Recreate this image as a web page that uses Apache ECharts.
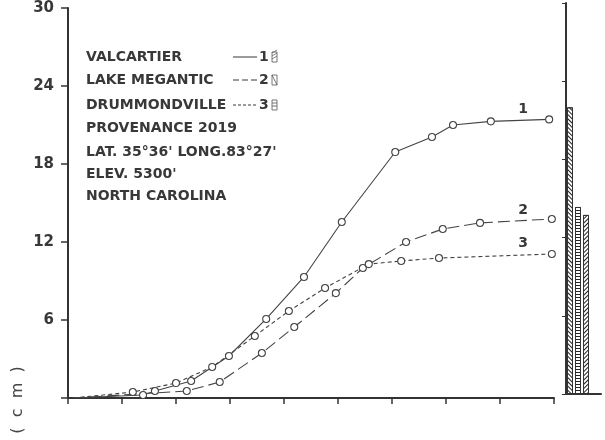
<!DOCTYPE html>
<html>
<head>
<meta charset="utf-8">
<script src="https://cdn.jsdelivr.net/npm/echarts@6/dist/echarts.min.js"></script>
<style>html,body{margin:0;padding:0;background:#fff}#c{width:605px;height:440px}</style>
</head>
<body>
<div id="c"></div>
<script>
// ---- data ----
const seriesNames = ['VALCARTIER', 'LAKE MEGANTIC', 'DRUMMONDVILLE'];
const seriesNumbers = ['1', '2', '3'];
const valcartier = [[0.1,0],[1.39,0.23],[1.61,0.54],[2.28,1.31],[2.98,3.23],[3.67,6.08],[4.37,9.31],[5.07,13.54],[6.06,18.92],[6.74,20.08],[7.13,21.0],[7.83,21.28],[8.91,21.43]];
const lakeMegantic = [[0.1,0],[2.20,0.54],[2.81,1.23],[3.59,3.46],[4.19,5.46],[4.96,8.07],[5.46,10.0],[6.26,12.0],[6.94,13.0],[7.63,13.47],[8.96,13.77]];
const drummondville = [[0.1,0],[1.20,0.46],[2.00,1.15],[2.67,2.39],[3.46,4.77],[4.09,6.69],[4.76,8.46],[5.57,10.3],[6.17,10.54],[6.87,10.77],[8.96,11.08]];
const yTicks = [0, 6, 12, 18, 24, 30];
const barCategories = ['1', '3', '2'];
const barValues = [22.0, 14.35, 13.74];
const infoLines = ['PROVENANCE 2019', 'LAT. 35°36\' LONG.83°27\'', 'ELEV. 5300\'', 'NORTH CAROLINA'];

const ink = '#383838';
const lineInk = '#444';
const chart = echarts.init(document.getElementById('c'), null, {renderer: 'canvas'});

function pts(arr) {
  return arr.map((p, i) => i === 0 ? {value: p, symbol: 'none'} : {value: p});
}
function lineSeries(name, data, dash) {
  return {
    name, type: 'line', xAxisIndex: 0, yAxisIndex: 0, data: pts(data),
    symbol: 'circle', symbolSize: 7,
    itemStyle: {color: '#fff', borderColor: lineInk, borderWidth: 1.1},
    lineStyle: {color: lineInk, width: 1.1, type: dash},
    emphasis: {disabled: true}, animation: false, z: 3
  };
}
const decals = {
  '1': {symbol: 'rect', symbolSize: 1, dashArrayX: [[1, 0]], dashArrayY: [1, 1.6], rotation: Math.PI / 4, color: '#222'},
  '2': {symbol: 'rect', symbolSize: 1, dashArrayX: [[1, 0]], dashArrayY: [1, 1.6], rotation: -Math.PI / 4, color: '#222'},
  '3': {symbol: 'rect', symbolSize: 1, dashArrayX: [[1, 0]], dashArrayY: [1, 1.6], rotation: 0, color: '#222'}
};

const textFont = 'bold 14px "DejaVu Sans"';
const graphics = [];
const rowY = [57, 80, 105, 128, 152, 174, 196];
seriesNames.forEach((n, i) => {
  graphics.push({type: 'text', x: 86, y: rowY[i], style: {text: n, font: textFont, fill: ink, verticalAlign: 'middle', textVerticalAlign: 'middle'}});
});
infoLines.forEach((n, i) => {
  graphics.push({type: 'text', x: 86, y: rowY[i + 3], style: {text: n, font: textFont, fill: ink, verticalAlign: 'middle', textVerticalAlign: 'middle'}});
});
const legendDash = [null, [6, 3], [3, 2]];
seriesNumbers.forEach((num, i) => {
  const y = rowY[i];
  graphics.push({type: 'line', shape: {x1: 233, y1: y, x2: 257, y2: y}, style: {stroke: ink, lineWidth: 1, lineDash: legendDash[i]}});
  graphics.push({type: 'text', x: 259, y: y, style: {text: num, font: textFont, fill: ink, verticalAlign: 'middle', textVerticalAlign: 'middle'}});
  graphics.push({type: 'rect', shape: {x: 272, y: y - 5, width: 5, height: 10}, style: {fill: '#fff', stroke: '#555', lineWidth: 0.8}});
  if (i === 0) {
    [0, 3, 6].forEach(d => graphics.push({type: 'line', shape: {x1: 272, y1: y - 1 + d - 3, x2: 277, y2: y - 4 + d - 3}, style: {stroke: '#555', lineWidth: 0.7}}));
  } else if (i === 1) {
    graphics.push({type: 'line', shape: {x1: 272, y1: y - 5, x2: 277, y2: y + 5}, style: {stroke: '#555', lineWidth: 0.8}});
  } else {
    [-2, 1].forEach(d => graphics.push({type: 'line', shape: {x1: 272, y1: y + d, x2: 277, y2: y + d}, style: {stroke: '#555', lineWidth: 0.8}}));
  }
});
// curve labels
[[523, 109, '1'], [523, 210, '2'], [523, 243, '3']].forEach(t => {
  graphics.push({type: 'text', x: t[0], y: t[1], style: {text: t[2], font: 'bold 14px "DejaVu Sans"', fill: ink, align: 'center', textAlign: 'center', verticalAlign: 'middle', textVerticalAlign: 'middle'}});
});
graphics.push({type: 'text', x: 18, y: 400, rotation: Math.PI / 2, style: {text: '(  c  m  )', font: '16px "DejaVu Sans"', fill: '#444', align: 'center', textAlign: 'center', verticalAlign: 'middle', textVerticalAlign: 'middle'}});

const option = {
  backgroundColor: '#fff',
  animation: false,
  grid: [
    {left: 68, top: 8, right: 51, bottom: 42},
    {left: 566, top: 3, width: 24, bottom: 46},
    {left: 566, top: 3, right: 4, bottom: 46}
  ],
  xAxis: [
    {gridIndex: 0, type: 'value', min: 0, max: 9, interval: 1,
      axisLine: {lineStyle: {color: '#333', width: 2}},
      axisTick: {show: true, length: 6, lineStyle: {color: '#333', width: 1.5}},
      axisLabel: {show: false}, splitLine: {show: false}},
    {gridIndex: 1, type: 'category', data: barCategories,
      axisLine: {show: false}, axisTick: {show: false}, axisLabel: {show: false}},
    {gridIndex: 2, type: 'value', min: 0, max: 1,
      axisLine: {lineStyle: {color: '#333', width: 2}}, axisTick: {show: false},
      axisLabel: {show: false}, splitLine: {show: false}}
  ],
  yAxis: [
    {gridIndex: 0, type: 'value', min: yTicks[0], max: yTicks[yTicks.length - 1], interval: 6,
      axisLine: {show: true, lineStyle: {color: '#333', width: 2}},
      axisTick: {show: true, length: 7, lineStyle: {color: '#333', width: 1.5}},
      axisLabel: {margin: 14, color: ink, fontFamily: 'DejaVu Sans', fontWeight: 'bold', fontSize: 15,
        formatter: v => v === 0 ? '' : String(v)},
      splitLine: {show: false}},
    {gridIndex: 1, type: 'value', min: 0, max: 30, show: false},
    {gridIndex: 2, type: 'value', min: 0, max: 30, interval: 6, position: 'right',
      axisLine: {show: true, lineStyle: {color: '#333', width: 2}},
      axisTick: {show: true, inside: true, length: 4, lineStyle: {color: '#333'}},
      axisLabel: {show: false}, splitLine: {show: false}}
  ],
  series: [
    lineSeries(seriesNames[0], valcartier, 'solid'),
    lineSeries(seriesNames[1], lakeMegantic, [12, 5]),
    lineSeries(seriesNames[2], drummondville, [4, 3]),
    {type: 'bar', xAxisIndex: 1, yAxisIndex: 1, barWidth: 6, animation: false,
      data: barValues.map((v, i) => ({value: v, itemStyle: {color: '#fff', borderColor: '#333', borderWidth: 1, decal: decals[barCategories[i]]}})),
      emphasis: {disabled: true}}
  ],
  graphic: graphics
};
chart.setOption(option);
</script>
</body>
</html>
